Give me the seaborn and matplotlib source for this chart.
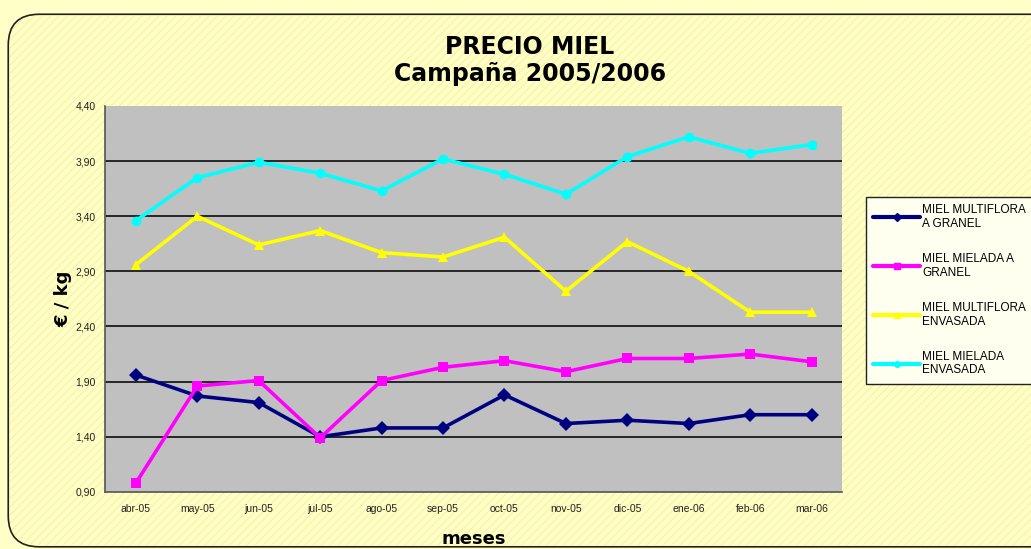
import pandas as pd
import matplotlib.pyplot as plt
import seaborn as sns
import numpy as np
from matplotlib.patches import FancyBboxPatch
from matplotlib.lines import Line2D

# monthly prices (EUR / kg)
meses = ["abr-05", "may-05", "jun-05", "jul-05", "ago-05", "sep-05",
         "oct-05", "nov-05", "dic-05", "ene-06", "feb-06", "mar-06"]
multiflora_granel = [1.96, 1.77, 1.71, 1.40, 1.48, 1.48, 1.78, 1.52, 1.55, 1.52, 1.60, 1.60]
mielada_granel = [0.98, 1.86, 1.91, 1.39, 1.91, 2.03, 2.09, 1.99, 2.11, 2.11, 2.15, 2.08]
multiflora_envasada = [2.96, 3.40, 3.14, 3.27, 3.07, 3.03, 3.21, 2.72, 3.17, 2.90, 2.53, 2.53]
mielada_envasada = [3.36, 3.75, 3.89, 3.79, 3.63, 3.92, 3.78, 3.60, 3.94, 4.12, 3.97, 4.05]

series_names = ["MIEL MULTIFLORA\nA GRANEL", "MIEL MIELADA A\nGRANEL",
                "MIEL MULTIFLORA\nENVASADA", "MIEL MIELADA\nENVASADA"]
series_values = [multiflora_granel, mielada_granel, multiflora_envasada, mielada_envasada]
colores = ["#000080", "#FF00FF", "#FFFF00", "#00FFFF"]
marcadores = ["D", "s", "^", "o"]
y_ticks = [0.90, 1.40, 1.90, 2.40, 2.90, 3.40, 3.90, 4.40]

rows = []
for name, vals in zip(series_names, series_values):
    for i, v in enumerate(vals):
        rows.append({"idx": i, "mes": meses[i], "precio": v, "serie": name})
df = pd.DataFrame(rows)

sns.set_style("white")
plt.rcParams["font.family"] = ["DejaVu Sans"]
plt.rcParams["text.color"] = "black"
plt.rcParams["axes.labelcolor"] = "black"

fig = plt.figure(figsize=(10.31, 5.49), dpi=100)
fig.patch.set_facecolor("#FFFFC8")

# rounded chart-area border with faint diagonal hatch
bg = FancyBboxPatch((0.008, 0.004), 1.1, 0.97, boxstyle="round,pad=0,rounding_size=0.03",
                    transform=fig.transFigure, facecolor="#FFFFC4", edgecolor="#202020",
                    linewidth=1.2, zorder=-2, mutation_aspect=1.88)
fig.patches.append(bg)
plt.rcParams["hatch.linewidth"] = 0.6
hatch = FancyBboxPatch((0.009, 0.006), 1.1, 0.966, boxstyle="round,pad=0,rounding_size=0.03",
                       transform=fig.transFigure, facecolor="none", edgecolor="#F2EDA8",
                       hatch="////", linewidth=0, zorder=-1, mutation_aspect=1.88)
fig.patches.append(hatch)

ax = fig.add_axes([0.102, 0.104, 0.715, 0.703])
ax.set_facecolor("#C0C0C0")

sns.lineplot(data=df, x="idx", y="precio", hue="serie", style="serie",
             palette=dict(zip(series_names, colores)),
             markers=dict(zip(series_names, marcadores)), dashes=False,
             linewidth=2.6, markersize=7, markeredgewidth=0, ax=ax, legend=False)

for t in y_ticks[1:-1]:
    ax.axhline(t, color="#1a1a1a", linewidth=1.3, zorder=0.5)

ax.set_xlim(-0.5, 11.5)
ax.set_ylim(0.90, 4.40)
ax.set_yticks(y_ticks)
ax.set_yticklabels([f"{t:.2f}".replace(".", ",") for t in y_ticks], fontsize=7.5,
                   family="Liberation Sans", color="#222222")
ax.set_xticks(range(len(meses)))
ax.set_xticklabels(meses, fontsize=7.5, family="Liberation Sans", color="#222222")
ax.set_xticks(np.arange(-0.5, 12, 1), minor=True)
ax.tick_params(axis="x", which="major", length=0, pad=9)
ax.tick_params(axis="x", which="minor", length=4, direction="out", color="#333333")
ax.tick_params(axis="y", length=4, direction="out", color="#333333", pad=3)

for s in ["top", "right"]:
    ax.spines[s].set_visible(False)
for s in ["left", "bottom"]:
    ax.spines[s].set_color("#555555")
    ax.spines[s].set_linewidth(1.2)

ax.set_xlabel("meses", fontsize=13, fontweight="bold", labelpad=11)
ax.set_ylabel("€ / kg", fontsize=13, fontweight="bold", labelpad=2)

fig.text(0.514, 0.915, "PRECIO MIEL", ha="center", va="center", fontsize=17, fontweight="bold")
fig.text(0.514, 0.865, "Campaña 2005/2006", ha="center", va="center", fontsize=17, fontweight="bold")

handles = [Line2D([], [], color=c, marker=m, markersize=4, linewidth=3)
           for c, m in zip(colores, marcadores)]
leg = fig.legend(handles, series_names, loc="upper left", bbox_to_anchor=(0.840, 0.641),
                 frameon=True, fancybox=False, framealpha=1, edgecolor="#222222",
                 facecolor="#FFFFF0", prop={"family": "Liberation Sans", "size": 8.5},
                 handlelength=4.0, handletextpad=0.15, labelspacing=1.95, borderpad=0.6,
                 borderaxespad=0)

fig.savefig("out.png", dpi=100, facecolor=fig.get_facecolor())
